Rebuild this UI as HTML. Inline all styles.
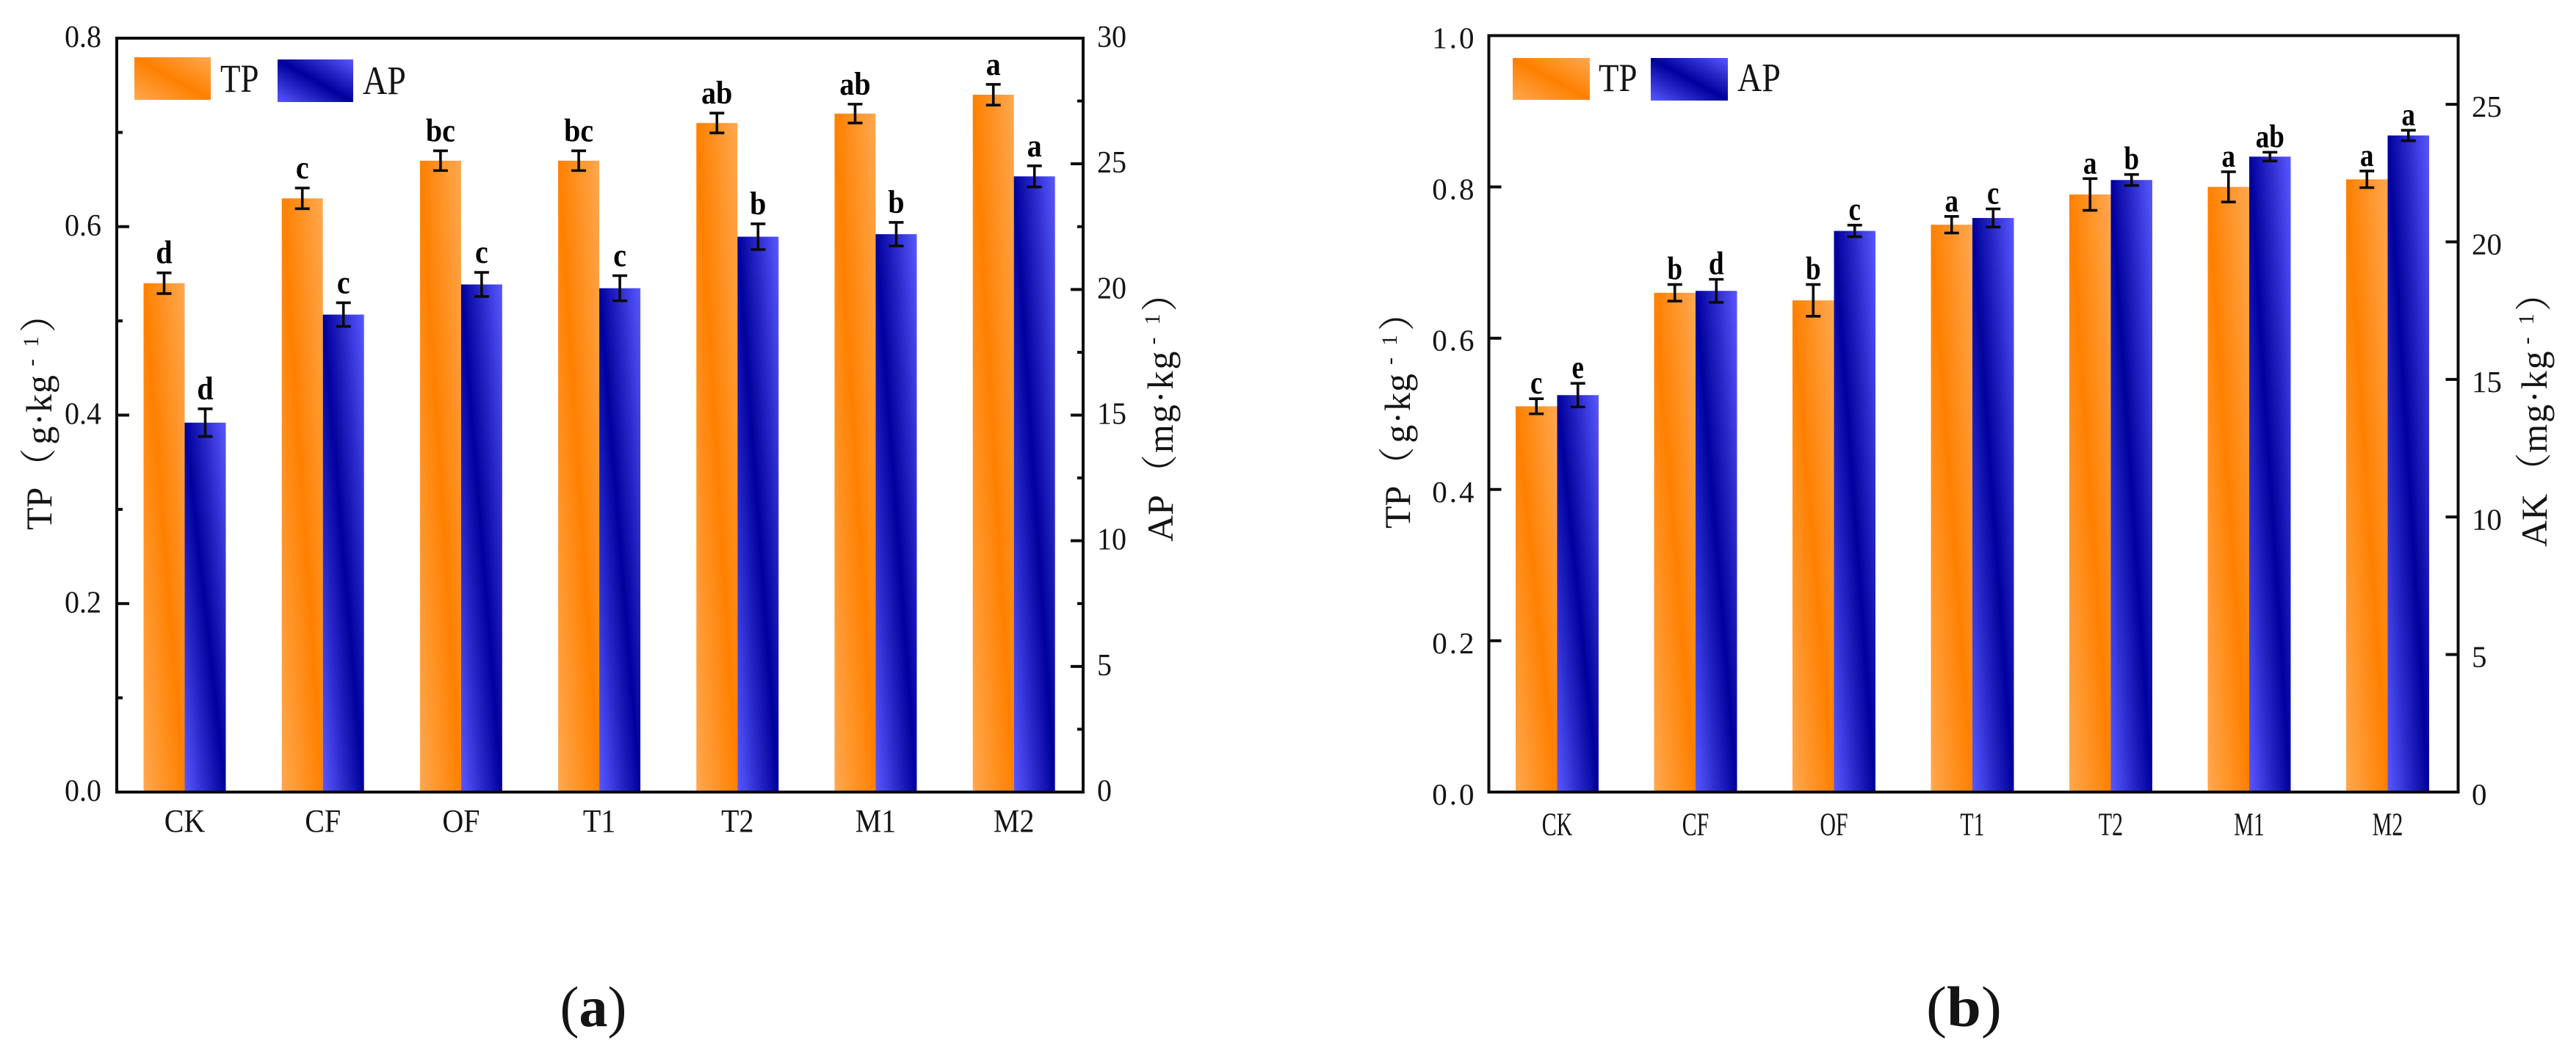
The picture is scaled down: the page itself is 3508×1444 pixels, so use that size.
<!DOCTYPE html>
<html lang="en">
<head>
<meta charset="utf-8">
<title>TP and AP bar charts</title>
<style>
html,body{margin:0;padding:0;background:#fff;width:3508px;height:1444px;overflow:hidden}
svg{display:block}
text{font-family:"Liberation Serif","Noto Serif CJK SC",serif;fill:#141414;white-space:pre}
</style>
</head>
<body>
<svg id="figure" xmlns="http://www.w3.org/2000/svg" width="3508" height="1444" viewBox="0 0 3508 1444">
  <defs>
    <linearGradient id="tp-fill" x1="0" y1="1" x2="1" y2="0">
      <stop offset="0" stop-color="#FFA850"/><stop offset="0.5" stop-color="#FF8000"/><stop offset="1" stop-color="#FFA850"/>
    </linearGradient>
    <linearGradient id="ap-fill" x1="0" y1="1" x2="1" y2="0">
      <stop offset="0" stop-color="#5858FF"/><stop offset="0.5" stop-color="#00009C"/><stop offset="1" stop-color="#5858FF"/>
    </linearGradient>
  </defs>
  <rect width="3508" height="1444" fill="#fff"/>

  <g id="panel-a">
    <g>
      <rect x="183" y="78" width="104" height="58" fill="url(#tp-fill)"/>
      <text transform="translate(300 125) scale(1 1.2)" font-size="45">TP</text>
      <rect x="378" y="81" width="103" height="58" fill="url(#ap-fill)"/>
      <text transform="translate(494 128) scale(1 1.2)" font-size="46">AP</text>
    </g>
    <text transform="translate(70 722) rotate(-90)" font-size="50">TP<tspan dx="3">（</tspan><tspan dx="5" letter-spacing="1">g·kg</tspan><tspan dx="11" dy="-18" font-size="30">-</tspan><tspan dx="16" font-size="30">1</tspan><tspan dx="5" dy="18">）</tspan></text>
    <text transform="translate(1597 738) rotate(-90)" font-size="50">AP<tspan dx="5">（</tspan><tspan dx="2" letter-spacing="2">mg·kg</tspan><tspan dx="7" dy="-18" font-size="30">-</tspan><tspan dx="17" font-size="30">1</tspan><tspan dx="3" dy="18">）</tspan></text>
    <text x="808" y="1398" font-size="78" text-anchor="middle">(<tspan font-weight="bold">a</tspan>)</text>
  </g>

  <g id="panel-b">
    <g>
      <rect x="2060" y="79" width="105" height="57" fill="url(#tp-fill)"/>
      <text transform="translate(2177 124) scale(1 1.2)" font-size="45">TP</text>
      <rect x="2248" y="79" width="105" height="58" fill="url(#ap-fill)"/>
      <text transform="translate(2366 124) scale(1 1.2)" font-size="46">AP</text>
    </g>
    <text transform="translate(1920 720) rotate(-90)" font-size="50">TP<tspan dx="3">（</tspan><tspan dx="5" letter-spacing="1">g·kg</tspan><tspan dx="11" dy="-18" font-size="30">-</tspan><tspan dx="16" font-size="30">1</tspan><tspan dx="5" dy="18">）</tspan></text>
    <text transform="translate(3468 745) rotate(-90)" font-size="50">AK<tspan dx="6">（</tspan><tspan letter-spacing="2">mg·kg</tspan><tspan dx="7" dy="-18" font-size="30">-</tspan><tspan dx="17" font-size="30">1</tspan><tspan dx="3" dy="18">）</tspan></text>
    <text transform="translate(2674.5 1398) scale(1.08 1)" font-size="78" text-anchor="middle">(<tspan font-weight="bold">b</tspan>)</text>
  </g>
</svg>

<script>
// Shared categories
const categories = ['CK', 'CF', 'OF', 'T1', 'T2', 'M1', 'M2'];

// Panel (a) data
const tpValuesA = [0.54, 0.63, 0.67, 0.67, 0.71, 0.72, 0.74];
const tpErrorsA = [0.011, 0.011, 0.0105, 0.0105, 0.0105, 0.01, 0.011];
const tpLettersA = ['d', 'c', 'bc', 'bc', 'ab', 'ab', 'a'];
const apValuesA = [14.7, 19.0, 20.2, 20.05, 22.1, 22.2, 24.5];
const apErrorsA = [0.55, 0.47, 0.48, 0.5, 0.51, 0.47, 0.42];
const apLettersA = ['d', 'c', 'c', 'c', 'b', 'b', 'a'];
const leftTicksA = [0, 0.2, 0.4, 0.6, 0.8];
const leftTickLabelsA = ['0.0', '0.2', '0.4', '0.6', '0.8'];
const leftMinorTicksA = [0.1, 0.3, 0.5, 0.7];
const rightTicksA = [0, 5, 10, 15, 20, 25, 30];
const rightTickLabelsA = ['0', '5', '10', '15', '20', '25', '30'];
const rightMinorTicksA = [2.5, 7.5, 12.5, 17.5, 22.5, 27.5];

// Panel (b) data
const tpValuesB = [0.51, 0.66, 0.65, 0.75, 0.79, 0.80, 0.81];
const tpErrorsB = [0.01, 0.011, 0.021, 0.011, 0.021, 0.02, 0.011];
const tpLettersB = ['c', 'b', 'b', 'a', 'a', 'a', 'a'];
const apValuesB = [14.43, 18.22, 20.4, 20.87, 22.25, 23.1, 23.87];
const apErrorsB = [0.43, 0.42, 0.21, 0.33, 0.2, 0.16, 0.19];
const apLettersB = ['e', 'd', 'c', 'c', 'b', 'ab', 'a'];
const leftTicksB = [0, 0.2, 0.4, 0.6, 0.8, 1.0];
const leftTickLabelsB = ['0.0', '0.2', '0.4', '0.6', '0.8', '1.0'];
const leftMinorTicksB = [];
const rightTicksB = [0, 5, 10, 15, 20, 25];
const rightTickLabelsB = ['0', '5', '10', '15', '20', '25'];
const rightMinorTicksB = [];

const SVG_NS = 'http://www.w3.org/2000/svg';

function make(tag, attrs, parent) {
  const el = document.createElementNS(SVG_NS, tag);
  for (const k in attrs) el.setAttribute(k, attrs[k]);
  parent.appendChild(el);
  return el;
}

function drawPanel(parent, p, d) {
  const yLeft = v => p.yBottom - (v / p.leftMax) * (p.yBottom - p.yTop);
  const yRight = v => p.yBottom - (v / p.rightMax) * (p.yBottom - p.yTop);
  const groupX = i => p.x0 + i * p.step;

  function drawSeries(values, errors, letters, scale, fill, side, key) {
    values.forEach((v, i) => {
      const cat = categories[i].toLowerCase();
      const left = side < 0 ? groupX(i) - p.barW : groupX(i);
      const bar = make('rect', { x: left, y: scale(v), width: p.barW, height: p.yBottom - scale(v), fill: fill }, parent);
      
      
    });
    values.forEach((v, i) => {
      const cat = categories[i].toLowerCase();
      const left = side < 0 ? groupX(i) - p.barW : groupX(i);
      const cx = left + p.barW / 2;
      const top = scale(v + errors[i]);
      const bottom = scale(v - errors[i]);
      const err = make('path', {
        d: 'M' + (cx - p.cap) + ' ' + top + 'H' + (cx + p.cap) + 'M' + cx + ' ' + top + 'V' + bottom + 'M' + (cx - p.cap) + ' ' + bottom + 'H' + (cx + p.cap),
        fill: 'none', stroke: '#0a0a0a', 'stroke-width': 3.6
      }, parent);
      
      
      const label = make('text', {
        transform: 'translate(' + cx + ' ' + (top - p.letterGap) + ') scale(1 ' + p.letterScaleY + ')',
        'font-size': p.letterSize, 'font-weight': 'bold', 'text-anchor': 'middle', style: 'fill:#000'
      }, parent);
      
      
      label.textContent = letters[i];
    });
  }

  drawSeries(d.tp, d.tpErr, d.tpLetters, yLeft, 'url(#tp-fill)', -1, 'tp');
  drawSeries(d.ap, d.apErr, d.apLetters, yRight, 'url(#ap-fill)', 1, 'ap');

  const frame = make('path', {
    d: 'M' + p.leftX + ' ' + p.yBottom + 'V' + p.yTop + 'H' + p.rightX + 'V' + p.yBottom + 'Z',
    fill: 'none', stroke: '#0c0c0c', 'stroke-width': 4
  }, parent);
  
  

  d.leftTicks.forEach((v, i) => {
    const y = yLeft(v);
    const tick = make('line', { x1: p.leftX, x2: p.leftX + p.major, y1: y, y2: y, stroke: '#0c0c0c', 'stroke-width': 4 }, parent);
    
    
    const label = make('text', {
      transform: 'translate(' + p.leftLabelX + ' ' + (y + p.tickBase) + ') scale(1 ' + p.tickScaleY + ')',
      'font-size': p.tickSize, 'text-anchor': 'end', style: 'letter-spacing:' + p.leftSpacing + 'px'
    }, parent);
    
    
    label.textContent = d.leftLabels[i];
  });
  d.leftMinor.forEach(v => {
    const y = yLeft(v);
    const tick = make('line', { x1: p.leftX, x2: p.leftX + p.minor, y1: y, y2: y, stroke: '#0c0c0c', 'stroke-width': 4 }, parent);
    
    
  });
  d.rightTicks.forEach((v, i) => {
    const y = yRight(v);
    const tick = make('line', { x1: p.rightX - p.major, x2: p.rightX, y1: y, y2: y, stroke: '#0c0c0c', 'stroke-width': 4 }, parent);
    
    
    const label = make('text', {
      transform: 'translate(' + p.rightLabelX + ' ' + (y + p.tickBase) + ') scale(1 ' + p.tickScaleY + ')',
      'font-size': p.tickSize
    }, parent);
    
    
    label.textContent = d.rightLabels[i];
  });
  d.rightMinor.forEach(v => {
    const y = yRight(v);
    const tick = make('line', { x1: p.rightX - p.minor, x2: p.rightX, y1: y, y2: y, stroke: '#0c0c0c', 'stroke-width': 4 }, parent);
    
    
  });

  categories.forEach((c, i) => {
    const label = make('text', {
      transform: 'translate(' + groupX(i) + ' ' + p.xLabelY + ') scale(' + p.xScaleX + ' ' + p.xScaleY + ')',
      'font-size': p.xSize, 'text-anchor': 'middle'
    }, parent);
    
    
    label.textContent = c;
  });
}

drawPanel(document.getElementById('panel-a'), {
  x0: 251.5, step: 188.2, barW: 56, cap: 10,
  yTop: 52, yBottom: 1079, leftX: 159, rightX: 1475,
  leftMax: 0.8, rightMax: 30, major: 17, minor: 8,
  leftLabelX: 138, rightLabelX: 1494, leftSpacing: 0, tickBase: 12, tickSize: 40, tickScaleY: 1.07,
  xLabelY: 1133, xSize: 40, xScaleX: 1, xScaleY: 1.12,
  letterGap: 13, letterSize: 40, letterScaleY: 1.1
}, {
  tp: tpValuesA, tpErr: tpErrorsA, tpLetters: tpLettersA,
  ap: apValuesA, apErr: apErrorsA, apLetters: apLettersA,
  leftTicks: leftTicksA, leftLabels: leftTickLabelsA, leftMinor: leftMinorTicksA,
  rightTicks: rightTicksA, rightLabels: rightTickLabelsA, rightMinor: rightMinorTicksA
});

drawPanel(document.getElementById('panel-b'), {
  x0: 2120.5, step: 188.5, barW: 56.5, cap: 10,
  yTop: 48.5, yBottom: 1079, leftX: 2027.5, rightX: 3347.5,
  leftMax: 1, rightMax: 27.5, major: 17, minor: 8,
  leftLabelX: 2010.5, rightLabelX: 3366, leftSpacing: 3, tickBase: 17, tickSize: 41, tickScaleY: 1,
  xLabelY: 1137.5, xSize: 44, xScaleX: 0.68, xScaleY: 1,
  letterGap: 7, letterSize: 37, letterScaleY: 1.2
}, {
  tp: tpValuesB, tpErr: tpErrorsB, tpLetters: tpLettersB,
  ap: apValuesB, apErr: apErrorsB, apLetters: apLettersB,
  leftTicks: leftTicksB, leftLabels: leftTickLabelsB, leftMinor: leftMinorTicksB,
  rightTicks: rightTicksB, rightLabels: rightTickLabelsB, rightMinor: rightMinorTicksB
});
</script>
</body>
</html>
